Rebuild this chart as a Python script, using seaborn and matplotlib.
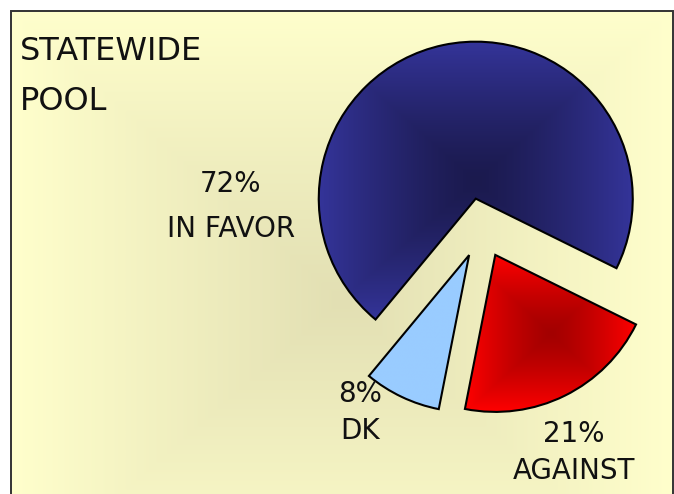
import numpy as np
import matplotlib
matplotlib.use("Agg")
import matplotlib.pyplot as plt
import seaborn as sns
from matplotlib.colors import to_rgb

# ---------------------------------------------------------------------------
# Data
# ---------------------------------------------------------------------------
answers = ["IN FAVOR", "DK", "AGAINST"]
shares = [72, 8, 21]
title_lines = ["STATEWIDE", "POOL"]

# ---------------------------------------------------------------------------
# Style
# ---------------------------------------------------------------------------
sns.set_style("white")
plt.rcParams["font.family"] = ["DejaVu Sans"]

W, H = 674, 494
fig = plt.figure(figsize=(W / 100, H / 100), dpi=100)
fig.patch.set_facecolor("white")
ax = fig.add_axes([0, 0, 1, 1])


def up(y):
    # reference is measured in pixel rows (top down)
    return H - y


def rect_gradient(c_mid, c_edge, n=300, gamma=1.0):
    """'From center' rectangular gradient as an RGB array."""
    u = np.linspace(-1, 1, n)
    uu, vv = np.meshgrid(u, u)
    t = np.clip(np.maximum(np.abs(uu), np.abs(vv)), 0, 1) ** gamma
    a = np.array(to_rgb(c_mid))
    b = np.array(to_rgb(c_edge))
    return a + (b - a) * t[..., None]


# background panel with its own gradient and frame
x0, x1, y0, y1 = 11, 673, 11, 590
frame = plt.Rectangle((x0, up(y1)), x1 - x0, y1 - y0, facecolor="none",
                      edgecolor="#333333", lw=1.4, zorder=5, clip_on=False)
ax.add_patch(frame)
ax.imshow(rect_gradient("#e2dfb3", "#ffffcc"),
          extent=[x0, x1, up(y1), up(y0)], origin="lower",
          interpolation="bilinear", zorder=0)

# ---------------------------------------------------------------------------
# Pie  (explode is in data units here: radius 157 -> offset ~30)
# ---------------------------------------------------------------------------
fills = [("#1b1a4e", "#343499"), ("#99ccff", "#99ccff"), ("#a30000", "#ff0000")]
wedges, _ = ax.pie(shares, explode=[30, 30, 30], startangle=-26.3,
                   radius=157, center=(482, up(228)), frame=True,
                   wedgeprops=dict(edgecolor="black", linewidth=1.5))

for w, (c_mid, c_edge) in zip(wedges, fills):
    ext = w.get_path().get_extents()
    w.set_facecolor("none")
    w.set_zorder(3)
    img = ax.imshow(rect_gradient(c_mid, c_edge, gamma=1.3),
                    extent=[ext.x0, ext.x1, ext.y0, ext.y1], origin="lower",
                    interpolation="bilinear", zorder=2)
    img.set_clip_path(w)

ax.set_xlim(0, W)
ax.set_ylim(0, H)
ax.set_aspect("equal")
ax.axis("off")

# ---------------------------------------------------------------------------
# Text
# ---------------------------------------------------------------------------
ax.text(20, up(60), title_lines[0], fontsize=23, color="#111111")
ax.text(20, up(110), title_lines[1], fontsize=23, color="#111111")

label_pos = {"IN FAVOR": (231, 192, 237),
             "DK": (360, 402, 439),
             "AGAINST": (574, 442, 479)}
for name, v in zip(answers, shares):
    x, yb1, yb2 = label_pos[name]
    ax.text(x, up(yb1), f"{v}%", fontsize=20, ha="center", va="baseline",
            color="#111111")
    ax.text(x, up(yb2), name, fontsize=20, ha="center", va="baseline",
            color="#111111")

fig.savefig("out.png", dpi=100)
